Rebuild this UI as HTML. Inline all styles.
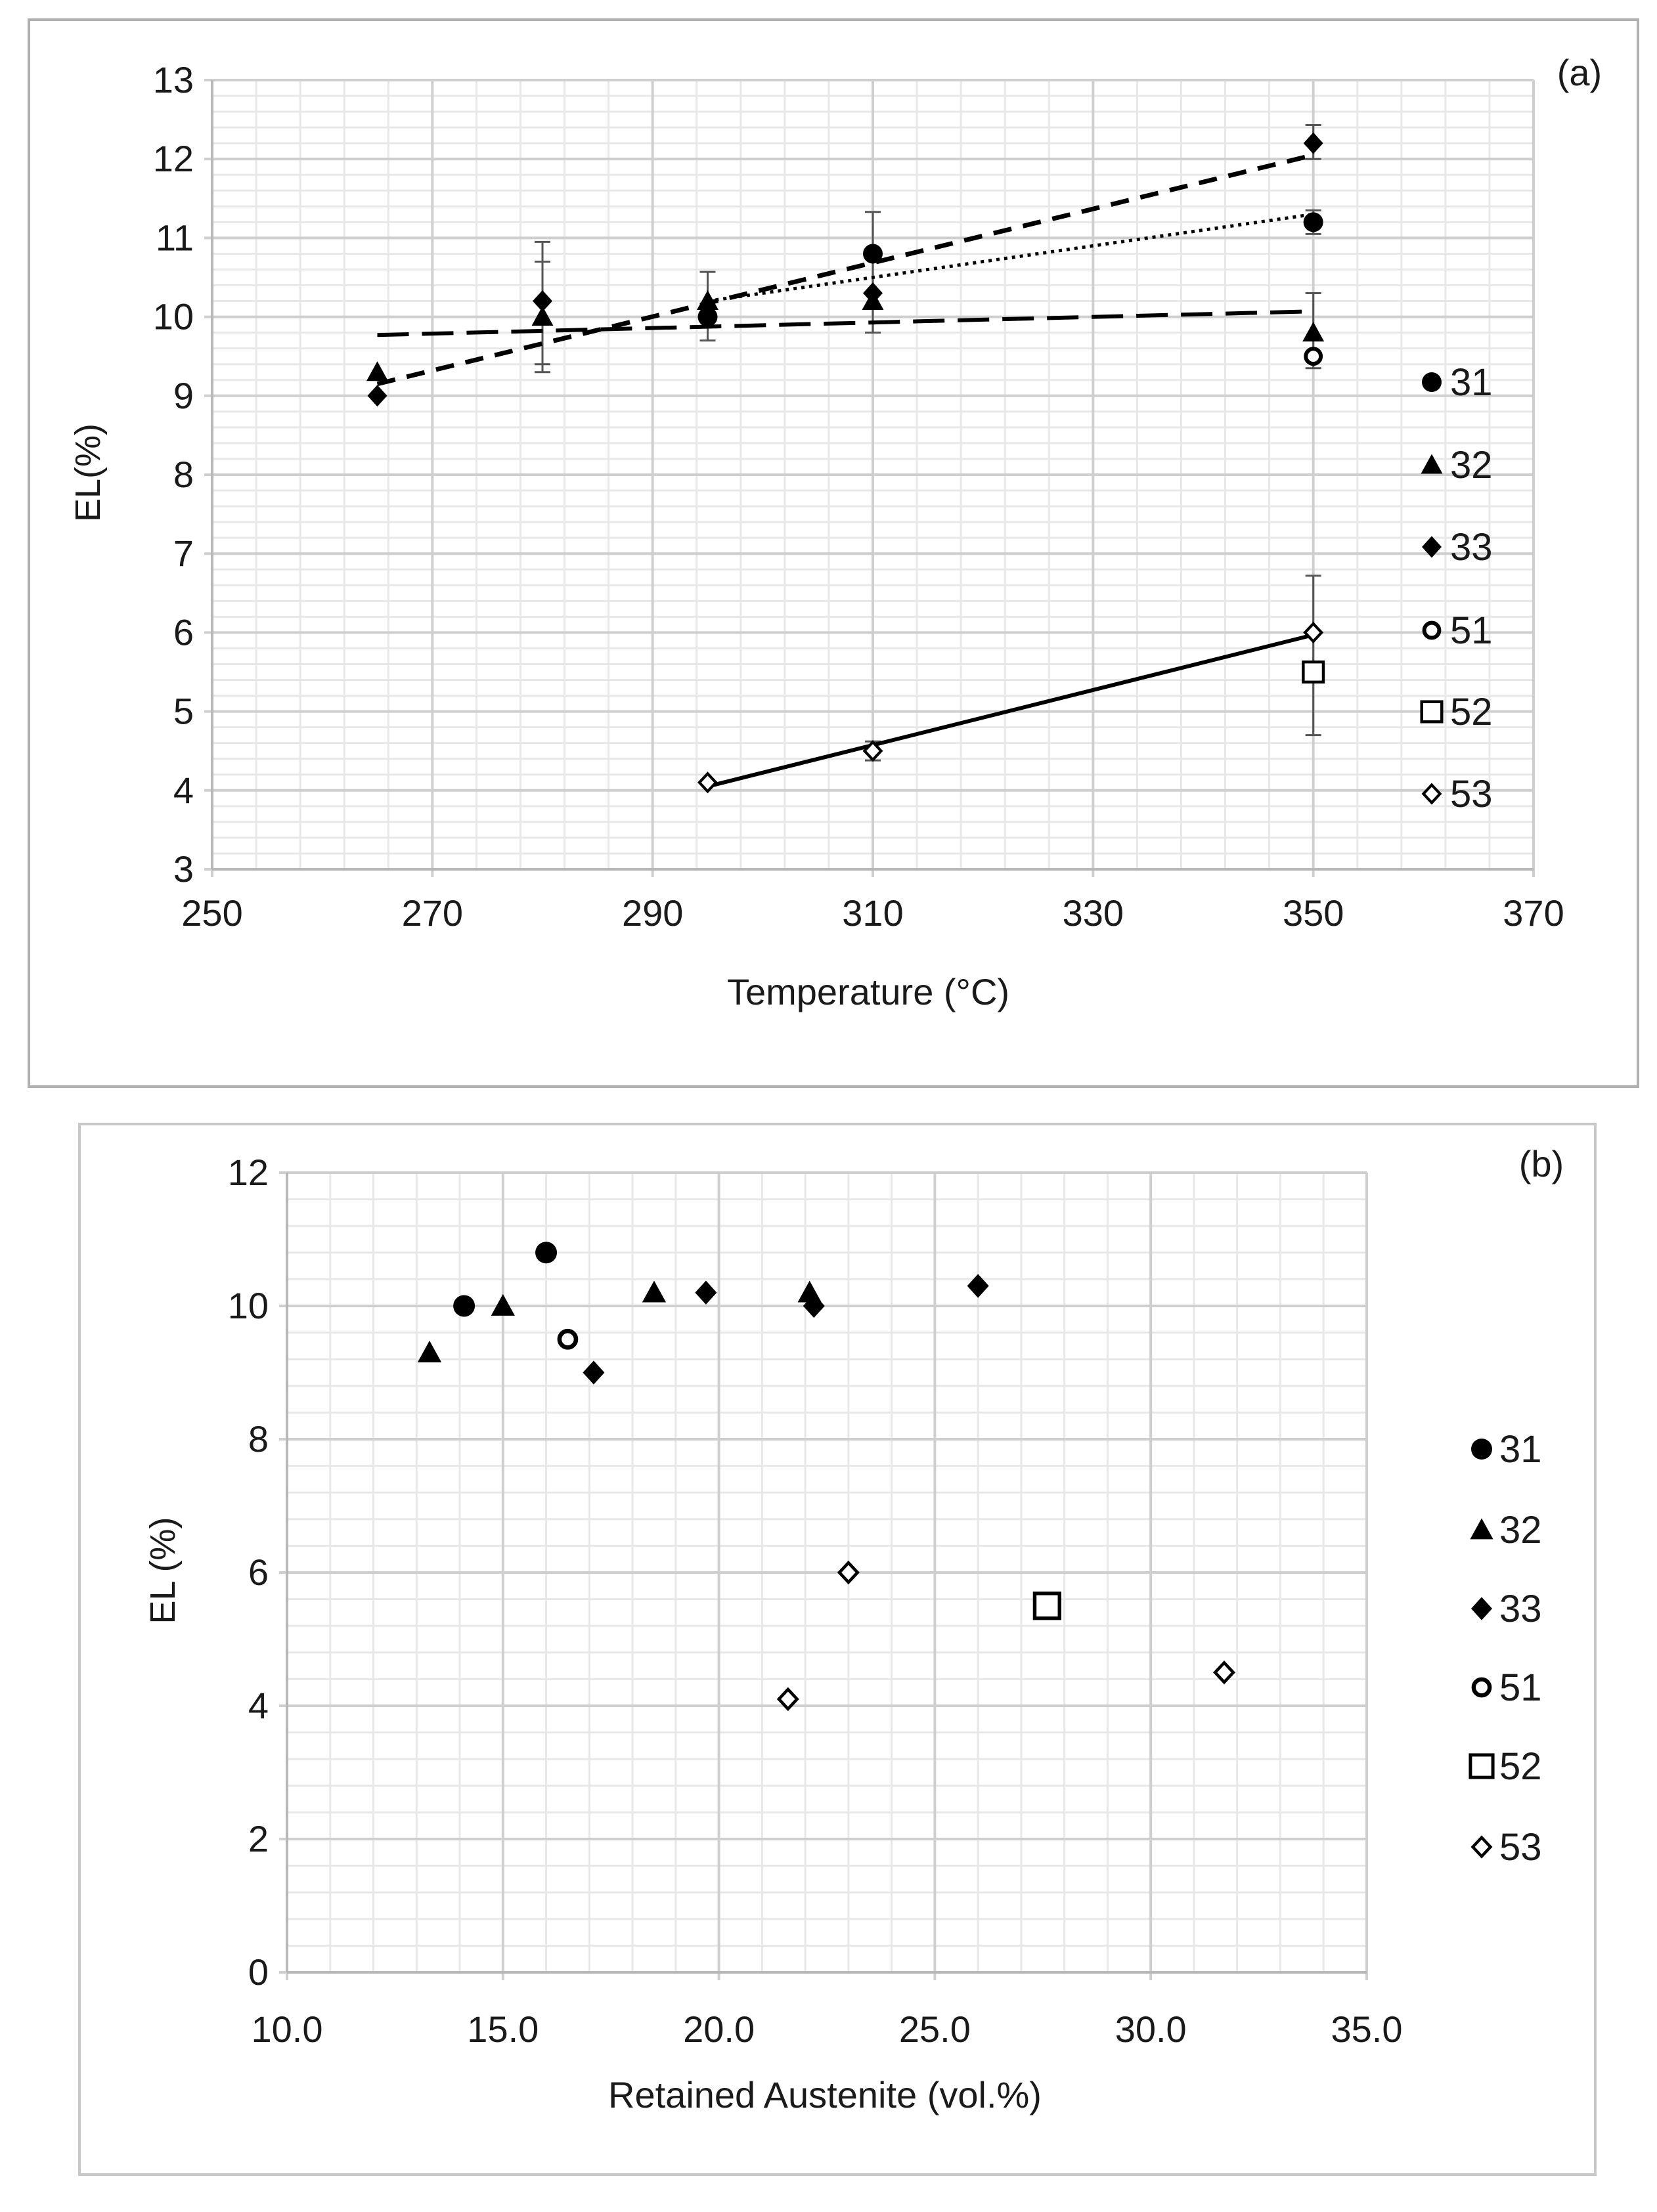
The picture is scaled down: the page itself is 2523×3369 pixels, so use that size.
<!DOCTYPE html>
<html><head><meta charset="utf-8"><style>
html,body{margin:0;padding:0;background:#fff;}
svg text{font-family:"Liberation Sans Narrow","Liberation Sans",sans-serif;fill:#1a1a1a;}
</style></head><body>
<svg id="s" width="2523" height="3364" viewBox="0 0 2523 3364" xmlns="http://www.w3.org/2000/svg">
<rect x="44" y="30" width="2450" height="1625" fill="#fff" stroke="#b0b0b0" stroke-width="4"/>
<rect x="121" y="1712" width="2308" height="1600" fill="#fff" stroke="#c8c8c8" stroke-width="4"/>
<g id="ga"></g>
<g id="gb"></g>
<text x="2405" y="130" font-size="56" text-anchor="middle">(a)</text>
<text x="2347" y="1792" font-size="56" text-anchor="middle">(b)</text>
<text x="1322" y="1530" font-size="56" text-anchor="middle">Temperature (°C)</text>
<text transform="translate(152,720) rotate(-90)" font-size="54" text-anchor="middle">EL(%)</text>
<text x="1256" y="3210" font-size="56" text-anchor="middle">Retained Austenite (vol.%)</text>
<text transform="translate(266,2392) rotate(-90)" font-size="54" text-anchor="middle">EL (%)</text>
</svg>
<script>
// Chart A data
const aSeries = ["31","32","33","51","52","53"];
const a31x = [295,310,350], a31y = [10.0,10.8,11.2];
const a32x = [265,280,295,310,350], a32y = [9.3,10.0,10.2,10.2,9.8];
const a33x = [265,280,295,310,350], a33y = [9.0,10.2,10.0,10.3,12.2];
const a51x = [350], a51y = [9.5];
const a52x = [350], a52y = [5.5];
const a53x = [295,310,350], a53y = [4.1,4.5,6.0];
const aErrX = [280,280,295,310,350,350,350,350,310];
const aErrLo = [9.3,9.4,9.7,9.8,12.0,11.05,9.35,4.7,4.38];
const aErrHi = [10.95,10.7,10.57,11.33,12.43,11.35,10.3,6.72,4.62];
const trend31 = [295,10.2,350,11.3];
const trend32 = [265,9.77,350,10.07];
const trend33 = [265,9.15,350,12.05];
const trend53 = [295,4.05,350,5.97];
const aXTicks = [250,270,290,310,330,350,370];
const aYTicks = [3,4,5,6,7,8,9,10,11,12,13];
// Chart B data
const b31x=[14.1,16.0], b31y=[10.0,10.8];
const b32x=[13.3,15.0,18.5,22.1], b32y=[9.3,10.0,10.2,10.2];
const b33x=[17.1,19.7,22.2,26.0], b33y=[9.0,10.2,10.0,10.3];
const b51x=[16.5], b51y=[9.5];
const b52x=[27.6], b52y=[5.5];
const b53x=[21.6,23.0,31.7], b53y=[4.1,6.0,4.5];
const bXTicks=[10,15,20,25,30,35];
const bYTicks=[0,2,4,6,8,10,12];

const NS="http://www.w3.org/2000/svg";
function mk(p,tag,at){const e=document.createElementNS(NS,tag);for(const k in at)e.setAttribute(k,at[k]);p.appendChild(e);return e;}

function marker(g,type,cx,cy,s){
  let e;
  if(type==="31"){e=mk(g,"circle",{cx:cx,cy:cy,r:s*0.5,fill:"#000"});}
  else if(type==="32"){e=mk(g,"polygon",{points:`${cx},${cy-s*0.55} ${cx+s*0.55},${cy+s*0.45} ${cx-s*0.55},${cy+s*0.45}`,fill:"#000"});}
  else if(type==="33"){e=mk(g,"polygon",{points:`${cx},${cy-s*0.55} ${cx+s*0.5},${cy} ${cx},${cy+s*0.55} ${cx-s*0.5},${cy}`,fill:"#000"});}
  else if(type==="51"){e=mk(g,"circle",{cx:cx,cy:cy,r:s*0.38,fill:"#fff",stroke:"#000","stroke-width":s*0.2});}
  else if(type==="52"){e=mk(g,"rect",{x:cx-s*0.45,y:cy-s*0.45,width:s*0.9,height:s*0.9,fill:"#fff",stroke:"#000","stroke-width":s*0.13});}
  else {e=mk(g,"polygon",{points:`${cx},${cy-s*0.45} ${cx+s*0.42},${cy} ${cx},${cy+s*0.45} ${cx-s*0.42},${cy}`,fill:"#fff",stroke:"#000","stroke-width":s*0.14});}
  
  
  return e;
}

function axes(g,o){
  const X=v=>o.x0+(v-o.xmin)/(o.xmax-o.xmin)*(o.x1-o.x0);
  const Y=v=>o.y0+(v-o.ymin)/(o.ymax-o.ymin)*(o.y1-o.y0);
  for(let v=o.xmin;v<=o.xmax+1e-9;v+=o.xminor){const l=mk(g,"line",{x1:X(v),x2:X(v),y1:o.y1,y2:o.y0,stroke:"#e8e8e8","stroke-width":3});}
  for(let v=o.ymin;v<=o.ymax+1e-9;v+=o.yminor){const l=mk(g,"line",{x1:o.x0,x2:o.x1,y1:Y(v),y2:Y(v),stroke:"#e8e8e8","stroke-width":3});}
  o.xt.forEach(v=>{const l=mk(g,"line",{x1:X(v),x2:X(v),y1:o.y1,y2:o.y0+12,stroke:"#cfcfcf","stroke-width":4});
    const t=mk(g,"text",{x:X(v),y:o.y0+o.xlabOff,"font-size":56,"text-anchor":"middle"});t.textContent=o.xfmt(v);});
  o.yt.forEach(v=>{const l=mk(g,"line",{x1:o.x0-12,x2:o.x1,y1:Y(v),y2:Y(v),stroke:"#cfcfcf","stroke-width":4});
    const t=mk(g,"text",{x:o.x0-28,y:Y(v)+19,"font-size":56,"text-anchor":"end"});t.textContent=v;});
  const ax=mk(g,"line",{x1:o.x0,x2:o.x1,y1:o.y0,y2:o.y0,stroke:"#b8b8b8","stroke-width":4});
  const ay=mk(g,"line",{x1:o.x0,x2:o.x0,y1:o.y0,y2:o.y1,stroke:"#b8b8b8","stroke-width":4});
  return [X,Y];
}

// Chart A
const ga=document.getElementById("ga");
const [AX,AY]=axes(ga,{x0:323,x1:2335,y0:1324,y1:122,xmin:250,xmax:370,ymin:3,ymax:13,xminor:4,yminor:0.2,xt:aXTicks,yt:aYTicks,xlabOff:86,xfmt:v=>v});
aErrX.forEach((x,i)=>{const g=mk(ga,"g",{stroke:"#555","stroke-width":3});
  mk(g,"line",{x1:AX(x),x2:AX(x),y1:AY(aErrLo[i]),y2:AY(aErrHi[i])});
  mk(g,"line",{x1:AX(x)-12,x2:AX(x)+12,y1:AY(aErrLo[i]),y2:AY(aErrLo[i])});
  mk(g,"line",{x1:AX(x)-12,x2:AX(x)+12,y1:AY(aErrHi[i]),y2:AY(aErrHi[i])});});
function trend(t,dash,w,name){const l=mk(ga,"line",{x1:AX(t[0]),y1:AY(t[1]),x2:AX(t[2]),y2:AY(t[3]),stroke:"#000","stroke-width":w,"stroke-dasharray":dash});}
trend(trend32,"48,20",6,"trendline-32");
trend(trend33,"28,18",7,"trendline-33");
trend(trend31,"5,7",5,"trendline-31");
trend(trend53,"none",6,"trendline-53");
const aData={"31":[a31x,a31y],"32":[a32x,a32y],"33":[a33x,a33y],"51":[a51x,a51y],"52":[a52x,a52y],"53":[a53x,a53y]};
["32","33","31","51","52","53"].forEach(k=>{aData[k][0].forEach((x,i)=>marker(ga,k,AX(x),AY(aData[k][1][i]),k==="52"?34:30));});
const aLegY=[582,708,833,960,1084,1209];
aSeries.forEach((k,i)=>{const g=mk(ga,"g",{});
  marker(g,k,2180,aLegY[i],k==="52"?34:30);const t=mk(g,"text",{x:2208,y:aLegY[i]+20,"font-size":58});t.textContent=k;});

// Chart B
const gb=document.getElementById("gb");
const [BX,BY]=axes(gb,{x0:437,x1:2081,y0:3004,y1:1786,xmin:10,xmax:35,ymin:0,ymax:12,xminor:1,yminor:0.4,xt:bXTicks,yt:bYTicks,xlabOff:106,xfmt:v=>v.toFixed(1)});
const bData={"31":[b31x,b31y],"32":[b32x,b32y],"33":[b33x,b33y],"51":[b51x,b51y],"52":[b52x,b52y],"53":[b53x,b53y]};
aSeries.forEach(k=>{bData[k][0].forEach((x,i)=>marker(gb,k,BX(x),BY(bData[k][1][i]),k==="52"?42:33));});
const bLegY=[2207,2330,2450,2570,2690,2813];
aSeries.forEach((k,i)=>{const g=mk(gb,"g",{});
  marker(g,k,2256,bLegY[i],k==="52"?38:32);const t=mk(g,"text",{x:2283,y:bLegY[i]+20,"font-size":58});t.textContent=k;});
</script>
</body></html>
